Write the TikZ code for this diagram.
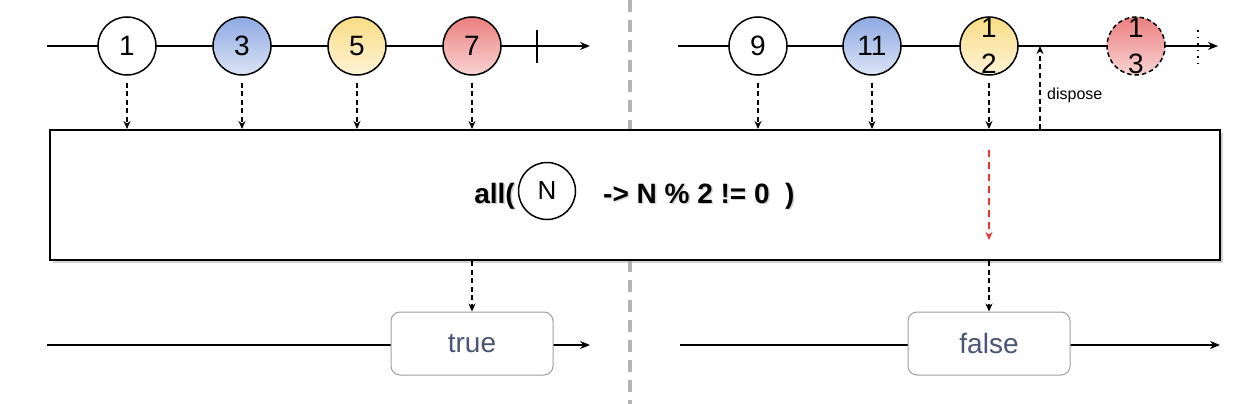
\documentclass[tikz,border=0pt]{standalone}
\usepackage{fontspec}
\setmainfont{Liberation Sans}
\usetikzlibrary{arrows.meta,shadows}
\definecolor{txtblue}{HTML}{4A5673}
\definecolor{bluetop}{HTML}{8EA9E3}
\definecolor{bluebot}{HTML}{DCE4F6}
\definecolor{yeltop}{HTML}{F8DC84}
\definecolor{yelbot}{HTML}{FEF4D8}
\definecolor{redtop}{HTML}{EC7F7F}
\definecolor{redbot}{HTML}{F9D4D4}
\definecolor{divgray}{HTML}{B4B4B4}
\definecolor{arrred}{HTML}{E8352E}
\begin{document}
\begin{tikzpicture}[x=1pt,y=-1pt,
  marble/.style={circle,draw=black,line width=1.5pt,minimum size=58pt,inner sep=0pt,fill=white,
    font=\fontsize{28}{40}\selectfont},
  bluem/.style={marble,top color=bluetop,bottom color=bluebot},
  yelm/.style={marble,top color=yeltop,bottom color=yelbot},
  redm/.style={marble,top color=redtop,bottom color=redbot},
  numtxt/.style={inner sep=0pt,align=center,font=\fontsize{28}{36}\selectfont},
  timeline/.style={line width=1.7pt,-{Stealth[length=10pt,width=8pt]}},
  dasharr/.style={line width=1.5pt,dash pattern=on 5pt off 3.5pt,-{Stealth[length=8pt,width=7pt]}},
  resbox/.style={draw=gray!75,rounded corners=9pt,fill=white,minimum width=162pt,minimum height=63pt,
    font=\fontsize{28}{32}\selectfont,text=txtblue,line width=1pt},
  opbox/.style={draw=black,line width=2pt,fill=white,minimum width=1170pt,minimum height=130pt,
    drop shadow={shadow xshift=2.5pt,shadow yshift=-2.5pt,fill=black!35}},
  formula/.style={inner sep=0pt,font=\bfseries\fontsize{28}{32}\selectfont},
  fshadow/.style={formula,text=black!18},
  divider/.style={draw=divgray,line width=3.5pt,dash pattern=on 12pt off 8pt}
]
\useasboundingbox (0,0) rectangle (1258,404);

% divider
\coordinate (dtop) at (630,0);
\coordinate (dbot) at (630,404);
\draw[divider] (dtop) -- (dbot);

% top timelines
\coordinate (l1s) at (47,46);
\coordinate (l1e) at (590,46);
\coordinate (l2s) at (678,46);
\coordinate (l2e) at (1218,46);
\draw[timeline] (l1s) -- (l1e);
\draw[timeline] (l2s) -- (l2e);

% completion tick
\coordinate (tkt) at (537,30);
\coordinate (tkb) at (537,63);
\draw[line width=1.6pt] (tkt) -- (tkb);
% dotted continuation marker
\coordinate (dtt) at (1198,30);
\coordinate (dtb) at (1198,64);
\draw[line width=1.6pt,dash pattern=on 1.6pt off 5pt] (dtt) -- (dtb);

% marbles
\node[marble] (c1) at (127,46) {1};
\node[bluem] (c3) at (242,46) {3};
\node[yelm] (c5) at (357,46) {5};
\node[redm] (c7) at (472,46) {7};
\node[marble] (c9) at (758,46) {9};
\node[bluem] (c11) at (872,46) {11};
\node[yelm] (c12) at (989,46) {};
\node[numtxt] (t12) at (c12) {1\\2};
\node[redm,dash pattern=on 4.5pt off 3pt] (c13) at (1136,46) {};
\node[numtxt] (t13) at (c13) {1\\3};

% operator box
\node[opbox] (op) at (635,195) {};
\node[fshadow,anchor=east] (fas) at (516.5,197.5) {all(};
\node[fshadow,anchor=west] (fbs) at (604.5,197.5) {-> N \% 2 != 0\ \ )};
\node[formula,anchor=east] (fa) at (515,196) {all(};
\node[circle,draw=black,line width=1.5pt,minimum size=57pt,inner sep=0pt,font=\fontsize{26}{30}\selectfont] (fn) at (547,191) {N};
\node[formula,anchor=west] (fb) at (603,196) {-> N \% 2 != 0\ \ )};

% input arrows
\foreach \c in {c1,c3,c5,c7,c9,c11,c12}{
  \draw[dasharr,shorten <=7pt] (\c.south) -- (\c.south |- op.north);
}

% dispose
\coordinate (dsp) at (1040,46);
\draw[dasharr] (op.north -| dsp) -- (dsp);
\node[anchor=west,inner sep=0pt,font=\fontsize{16}{18}\selectfont] (dlab) at (1047,95) {dispose};

% red arrow inside operator
\coordinate (rs) at (989,150);
\coordinate (re) at (989,240);
\draw[dasharr,draw=arrred,fill=arrred,dash pattern=on 7pt off 5pt] (rs) -- (re);

% bottom timelines
\coordinate (b1s) at (47,345);
\coordinate (b1e) at (590,345);
\coordinate (b2s) at (680,345);
\coordinate (b2e) at (1220,345);
\draw[timeline] (b1s) -- (b1e);
\draw[timeline] (b2s) -- (b2e);

\node[resbox] (tb) at (472,343.5) {true};
\node[resbox] (fbx) at (989,343.5) {false};

\draw[dasharr] (op.south -| tb.north) -- (tb.north);
\draw[dasharr] (op.south -| fbx.north) -- (fbx.north);
\end{tikzpicture}
\end{document}
